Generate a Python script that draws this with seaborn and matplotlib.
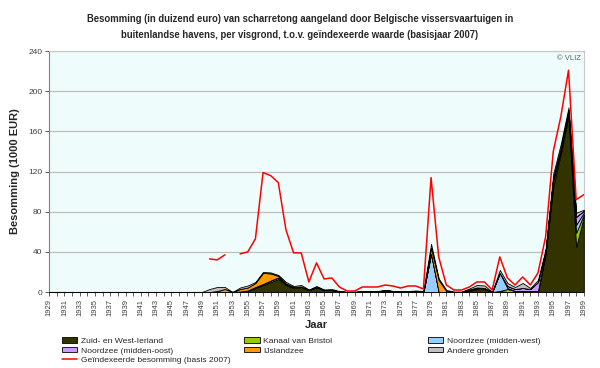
import matplotlib
matplotlib.use('Agg')
import numpy as np
import pandas as pd
import seaborn as sns
import matplotlib.pyplot as plt
from matplotlib.patches import Patch
from matplotlib.lines import Line2D

years = list(range(1929, 2000))

# 1929-1948 all zero, values read per year from 1949 on
zuid_west_ierland = [0] * 20 + [
    0, 0, 0.5, 0, 0, 0.5, 1, 4, 7, 10, 13, 7, 4, 5, 2, 5, 2, 2, 0.5, 0,
    0, 0.5, 0.5, 0.5, 0.5, 0.5, 0.5, 0.5, 0.5, 0, 0, 0, 0, 0, 0, 1, 3, 3, 0, 1,
    0, 0, 0, 0, 0, 38, 105, 138, 176, 45, 75]
kanaal_bristol = [0] * 20 + [
    0, 0, 0, 0, 0, 0, 0.5, 1, 1, 1.5, 1.5, 1, 1, 0.5, 0, 0, 0, 0, 0, 0,
    0, 0, 0, 0, 0, 0, 0, 0, 0, 0, 0, 0, 0, 0, 0, 1, 1, 1, 0, 0,
    3, 1, 1, 1, 1, 1, 5, 4, 3, 14, 2]
noordzee_mw = [0] * 20 + [
    0, 0, 0, 0, 0, 0, 0, 0, 0, 0, 0, 0, 0, 0, 0, 0, 0, 0, 0, 0,
    0, 0, 0, 0, 0, 0, 0, 0, 0, 0, 38, 0, 0, 0, 0, 0, 0, 0, 0, 18,
    1, 0, 0, 0, 0, 1, 2, 1, 1, 8, 2]
noordzee_mo = [0] * 20 + [
    0, 0, 0, 0, 0, 0, 0, 0, 0, 0, 0, 0, 0, 0, 0, 0, 0, 0, 0, 0,
    0, 0, 0, 0, 0.5, 0.5, 0.5, 0, 0, 0, 0, 0, 0, 0, 0, 0.5, 0.5, 0, 0, 0,
    2, 2, 3, 2, 9, 1, 2, 1, 1, 8, 2]
ijslandzee = [0] * 20 + [
    0, 0, 0.5, 3, 0, 2.5, 3, 4, 11, 7, 1.5, 0.5, 0, 0, 0, 0, 0, 0, 0, 0,
    0, 0, 0, 0, 1, 0, 0, 0, 0.5, 0.5, 6, 12, 1, 0, 0, 0, 0, 0, 0, 0,
    0, 0, 0, 0, 0, 0, 0, 0, 0, 0, 0]
andere = [0] * 20 + [
    0, 3, 4, 2, 0, 1.5, 2, 1, 1, 1, 1, 1.5, 1, 1.5, 0.5, 1, 0.5, 1, 0.5, 0,
    0.5, 0, 0, 0.5, 0, 0, 0, 0.5, 0.5, 0.5, 4, 1.5, 1, 0.5, 0.5, 1, 2.5, 2.5, 0, 3,
    3, 2, 5, 1, 2, 2, 4, 4, 3, 4, 1]
geindexeerd = [None] * 21 + [
    33, 32, 37, None, 38, 40, 53, 119, 116, 109, 62, 39, 39, 10, 29, 13, 14, 5, 1,
    1, 5, 5, 5, 7, 6, 4, 6, 6, 3, 114, 35, 7, 2, 2, 5, 10, 10, 2, 35,
    14, 7, 15, 7, 19, 55, 140, 175, 221, 92, 97]

series = [
    ('Zuid- en West-Ierland', zuid_west_ierland, '#333300'),
    ('Kanaal van Bristol', kanaal_bristol, '#99cc00'),
    ('Noordzee (midden-west)', noordzee_mw, '#99ccff'),
    ('Noordzee (midden-oost)', noordzee_mo, '#cc99ff'),
    ('IJslandzee', ijslandzee, '#ff9900'),
    ('Andere gronden', andere, '#c0c0c0'),
]
red = '#ff0000'

sns.set_theme(style='white')
plt.rcParams['font.family'] = ['Liberation Sans', 'DejaVu Sans']

fig = plt.figure(figsize=(6, 3.68), dpi=100)
ax = fig.add_axes([0.082, 0.2065, 0.891, 0.6545])
ax.set_facecolor('#effcfc')

ax.stackplot(years, *[s[1] for s in series], colors=[s[2] for s in series],
             edgecolor='black', linewidth=0.6, zorder=3)

# red line is broken where a year has no value
df = pd.DataFrame({'Jaar': years, 'Index': [np.nan if v is None else v for v in geindexeerd]})
df['seg'] = df['Index'].isna().cumsum()
for _, part in df.dropna().groupby('seg'):
    sns.lineplot(data=part, x='Jaar', y='Index', color=red, linewidth=1.1, ax=ax, zorder=4)

ax.set_xlim(1929, 1999)
ax.set_ylim(0, 240)
ax.set_yticks(range(0, 241, 40))
ax.yaxis.grid(True, color='#bdbdbd', linewidth=0.9, zorder=0)
ax.set_axisbelow(True)
ax.set_xticks(years)
ax.set_xticklabels([str(y) if (y - 1929) % 2 == 0 else '' for y in years],
                   rotation=90, fontsize=5.5, color='#404040')
ax.tick_params(axis='y', labelsize=6, colors='#404040', length=3, width=0.6, pad=2, left=True)
ax.tick_params(axis='x', length=3, width=0.6, pad=2, bottom=True, colors='#404040')
for side in ['top', 'right']:
    ax.spines[side].set_color('#c8c8c8')
    ax.spines[side].set_linewidth(0.8)
for side in ['left', 'bottom']:
    ax.spines[side].set_color('#808080')
    ax.spines[side].set_linewidth(0.8)

ax.set_xlabel('Jaar', fontsize=8, fontweight='bold', va='center')
ax.xaxis.set_label_coords(0.5, -0.137)
ax.set_ylabel('Besomming (1000 EUR)', fontsize=8, fontweight='bold', labelpad=6)
ax.text(0.995, 0.985, '© VLIZ', transform=ax.transAxes, ha='right', va='top',
        fontsize=5.5, color='#606060')

fig.text(0.5, 0.9266, 'Besomming (in duizend euro) van scharretong aangeland door Belgische vissersvaartuigen in\n'
         'buitenlandse havens, per visgrond, t.o.v. geïndexeerde waarde (basisjaar 2007)',
         ha='center', va='center', fontsize=6.85, fontweight='bold', linespacing=1.68)

# legend in three columns, laid out row-wise like the original
def patch(i):
    return Patch(facecolor=series[i][2], edgecolor='black', linewidth=0.6)

columns = [
    ([patch(0), patch(3), Line2D([], [], color=red, linewidth=1.1)],
     [series[0][0], series[3][0], 'Geïndexeerde besomming (basis 2007)'], 0.103),
    ([patch(1), patch(4)], [series[1][0], series[4][0]], 0.407),
    ([patch(2), patch(5)], [series[2][0], series[5][0]], 0.713),
]
for handles, labels, x0 in columns:
    fig.legend(handles, labels, loc='upper left', bbox_to_anchor=(x0, 0.083),
               frameon=False, fontsize=6.1, handlelength=1.85, handleheight=0.6,
               handletextpad=0.4, labelspacing=0.2, borderaxespad=0, borderpad=0)

fig.savefig('out.png', dpi=100)
